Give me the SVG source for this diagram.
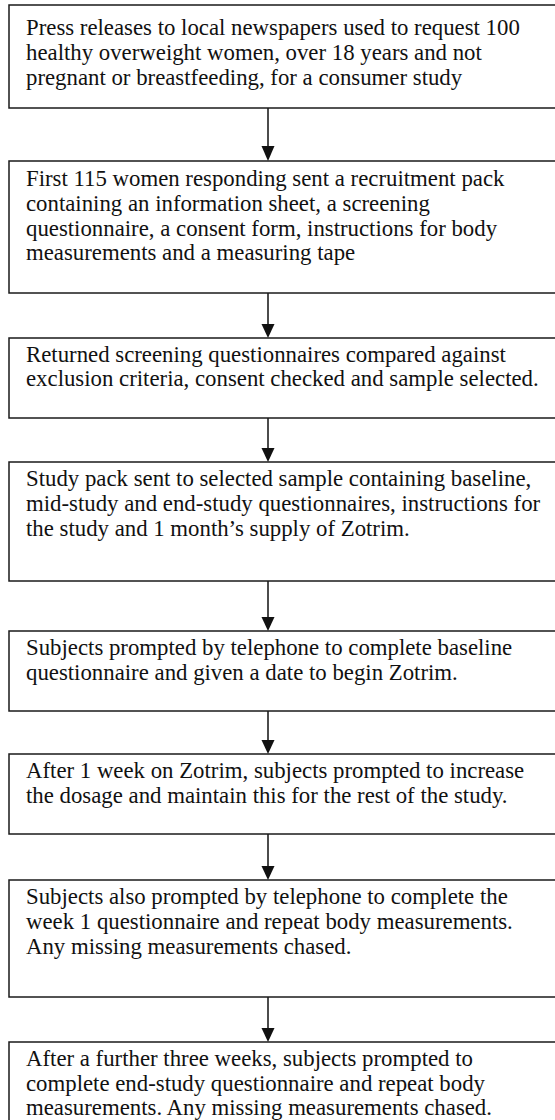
<svg xmlns="http://www.w3.org/2000/svg" width="555" height="1120" viewBox="0 0 555 1120">
<defs>
<style>
.box{fill:#fff;stroke:#1a1a1a;stroke-width:1.5}
.t{font-family:"Liberation Serif","Times New Roman",serif;font-size:22.8px;fill:#111}
.c{stroke:#111;stroke-width:1.5;fill:none}
.h{fill:#111}
</style>
</defs>
<rect width="555" height="1120" fill="#fff"/>
<g id="connectors">
<line class="c" x1="268" y1="108" x2="268" y2="148"/><path class="h" d="M261.5,146 L274.5,146 L268,161 Z"/>
<line class="c" x1="268" y1="293" x2="268" y2="326"/><path class="h" d="M261.5,324 L274.5,324 L268,338 Z"/>
<line class="c" x1="268" y1="418" x2="268" y2="450"/><path class="h" d="M261.5,448 L274.5,448 L268,462 Z"/>
<line class="c" x1="268" y1="581" x2="268" y2="619"/><path class="h" d="M261.5,617 L274.5,617 L268,631 Z"/>
<line class="c" x1="268" y1="711" x2="268" y2="742"/><path class="h" d="M261.5,740 L274.5,740 L268,754 Z"/>
<line class="c" x1="268" y1="834" x2="268" y2="868"/><path class="h" d="M261.5,866 L274.5,866 L268,880 Z"/>
<line class="c" x1="268" y1="997" x2="268" y2="1030"/><path class="h" d="M261.5,1028 L274.5,1028 L268,1042 Z"/>
</g>
<g id="n1"><rect class="box" x="9" y="5" width="560" height="103"/>
<text class="t"><tspan x="26" y="35">Press releases to local newspapers used to request 100</tspan><tspan x="26" y="60">healthy overweight women, over 18 years and not</tspan><tspan x="26" y="85">pregnant or breastfeeding, for a consumer study</tspan></text></g>
<g id="n2"><rect class="box" x="9" y="161" width="560" height="132"/>
<text class="t"><tspan x="26" y="186">First 115 women responding sent a recruitment pack</tspan><tspan x="26" y="211">containing an information sheet, a screening</tspan><tspan x="26" y="236">questionnaire, a consent form, instructions for body</tspan><tspan x="26" y="260">measurements and a measuring tape</tspan></text></g>
<g id="n3"><rect class="box" x="9" y="338" width="560" height="80"/>
<text class="t"><tspan x="26" y="362">Returned screening questionnaires compared against</tspan><tspan x="26" y="386">exclusion criteria, consent checked and sample selected.</tspan></text></g>
<g id="n4"><rect class="box" x="9" y="462" width="560" height="119"/>
<text class="t"><tspan x="26" y="486">Study pack sent to selected sample containing baseline,</tspan><tspan x="26" y="511">mid-study and end-study questionnaires, instructions for</tspan><tspan x="26" y="536">the study and 1 month’s supply of Zotrim.</tspan></text></g>
<g id="n5"><rect class="box" x="9" y="631" width="560" height="80"/>
<text class="t"><tspan x="26" y="655">Subjects prompted by telephone to complete baseline</tspan><tspan x="26" y="680">questionnaire and given a date to begin Zotrim.</tspan></text></g>
<g id="n6"><rect class="box" x="9" y="754" width="560" height="80"/>
<text class="t"><tspan x="26" y="778">After 1 week on Zotrim, subjects prompted to increase</tspan><tspan x="26" y="803">the dosage and maintain this for the rest of the study.</tspan></text></g>
<g id="n7"><rect class="box" x="9" y="880" width="560" height="117"/>
<text class="t"><tspan x="26" y="904">Subjects also prompted by telephone to complete the</tspan><tspan x="26" y="929">week 1 questionnaire and repeat body measurements.</tspan><tspan x="26" y="954">Any missing measurements chased.</tspan></text></g>
<g id="n8"><rect class="box" x="9" y="1042" width="560" height="90"/>
<text class="t"><tspan x="26" y="1066">After a further three weeks, subjects prompted to</tspan><tspan x="26" y="1091">complete end-study questionnaire and repeat body</tspan><tspan x="26" y="1115">measurements. Any missing measurements chased.</tspan></text></g>
</svg>
